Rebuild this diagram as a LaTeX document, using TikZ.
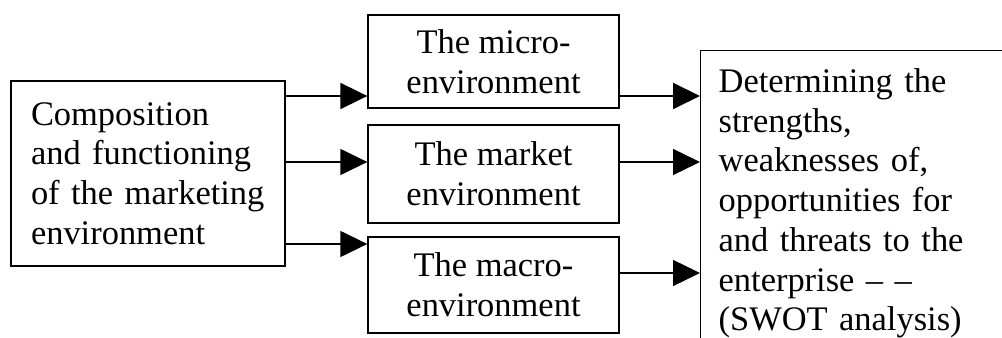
\documentclass[tikz,border=0pt]{standalone}
\usepackage{fontspec}
\setmainfont{Liberation Serif}
\usetikzlibrary{arrows.meta}

\begin{document}
\begin{tikzpicture}[
    box/.style={draw, line width=0.75pt, inner sep=0pt, font=\fontsize{19.6pt}{22.6pt}\selectfont},
    arr/.style={-{Triangle[length=0.54cm,width=0.52cm]}, line width=0.75pt}]
  \clip (0,0) rectangle (20.04,6.76);

  \node[box, minimum width=5.48cm, minimum height=3.70cm, text width=4.68cm, align=left] (comp) at (2.96,3.29)
    {Composition\\ and functioning\\ of the marketing\\ environment};

  \node[box, minimum width=5.02cm, minimum height=1.86cm, align=center] (micro) at (9.87,5.53) {The micro-\\ environment};
  \node[box, minimum width=5.02cm, minimum height=1.96cm, align=center] (market) at (9.87,3.28) {The market\\ environment};
  \node[box, minimum width=5.02cm, minimum height=1.92cm, align=center] (macro) at (9.87,1.06) {The macro-\\ environment};

  \node[box, anchor=north west, inner xsep=0.36cm, inner ysep=0.36cm, text width=6cm, align=left] (swot) at (14,5.76)
    {Determining the\\ strengths,\\ weaknesses of,\\ opportunities for\\ and threats to the\\ enterprise \textendash{} \textendash\\ (SWOT analysis)};

  \coordinate (r1) at (0,4.84);
  \coordinate (r2) at (0,3.52);
  \coordinate (r3) at (0,1.88);
  \coordinate (r4) at (0,1.30);

  \draw[arr, line width=1.1pt] (comp.east |- r1) -- (micro.west |- r1);
  \draw[arr] (comp.east |- r2) -- (market.west |- r2);
  \draw[arr] (comp.east |- r3) -- (macro.west |- r3);

  \draw[arr, line width=1.1pt] (micro.east |- r1) -- (swot.west |- r1);
  \draw[arr] (market.east |- r2) -- (swot.west |- r2);
  \draw[arr] (macro.east |- r4) -- (swot.west |- r4);

\end{tikzpicture}
\end{document}
